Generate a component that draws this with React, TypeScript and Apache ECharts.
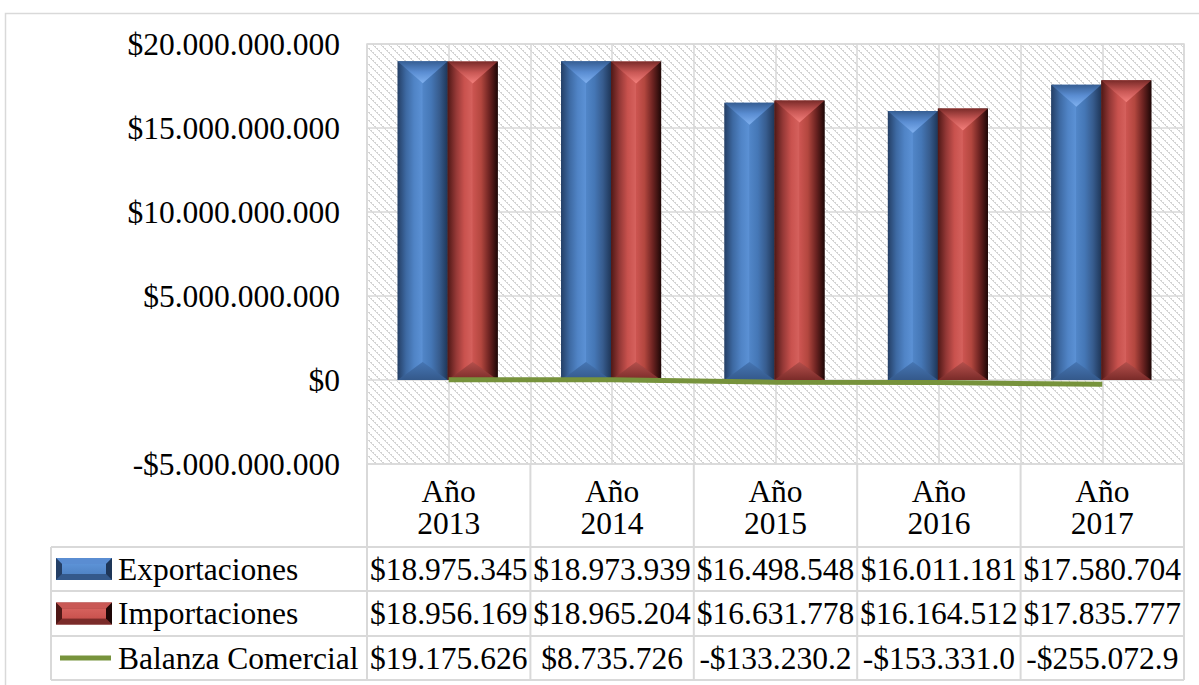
import React, { useEffect, useRef } from "react";
import * as echarts from "echarts";

// ---- data ----
const categories = ["Año\n2013", "Año\n2014", "Año\n2015", "Año\n2016", "Año\n2017"];
const seriesNames = ["Exportaciones", "Importaciones", "Balanza Comercial"];
const exportaciones = [18975345000, 18973939000, 16498548000, 16011181000, 17580704000];
const importaciones = [18956169000, 18965204000, 16631778000, 16164512000, 17835777000];
const balanza = [19175626, 8735726, -133230200, -153331000, -255072900];
const yMin = -5000000000;
const yMax = 20000000000;
const yStep = 5000000000;
const CELL_CHARS = 11; // the data-table cells clip their text

// ---- layout ----
const W = 1199;
const H = 685;
const FONT = '"Liberation Serif", "Times New Roman", serif';
const FS = 31.5;
const gridLeft = 367;
const gridTop = 44;
const gridW = 817;
const gridH = 420;
const tableLeft = 51;
const rowTops = [547, 591, 636, 680];
const borderCol = "#d9d9d9";

const fmt = (v: number) =>
  (v < 0 ? "-" : "") + "$" + Math.abs(Math.round(v)).toString().replace(/\B(?=(\d{3})+(?!\d))/g, ".");

const lg = (x2: number, y2: number, cols: string[]) =>
  new echarts.graphic.LinearGradient(
    0, 0, x2, y2,
    cols.map((c, k) => ({ offset: k / (cols.length - 1), color: c }))
  );

const bluePal = {
  base: ["#2a4770", "#4a7cbd", "#4f82c4", "#3e69a3", "#1c3354"],
  left: ["#243f66", "#3d69a2", "#5084c6", "#5c92d6"],
  right: ["#5186c8", "#4577b6", "#375c8e", "#1e3658"],
  top: ["#365e93", "#5a8dd2", "#80b1f0"],
  bottom: ["#4676b4", "#34598b"],
};
const redPal = {
  base: ["#4e1816", "#b44845", "#c4504c", "#8a302e", "#1e0706"],
  left: ["#4f1816", "#943836", "#c9524e", "#d6625e"],
  right: ["#cd5551", "#b3473f", "#6c2321", "#1e0706"],
  top: ["#7a2b29", "#c95855", "#f4807c"],
  bottom: ["#b5504c", "#7a2b29"],
};

function bevelBar(pal: any, side: number) {
  return (params: any, api: any) => {
    const i = api.value(0);
    const v = api.value(1);
    const p = api.coord([i, v]);
    const b = api.coord([i, 0]);
    const band = api.size([1, 0])[0];
    const w = band * 0.306;
    const cx = p[0] - 1;
    const x0 = side < 0 ? cx - w : cx;
    const x1 = x0 + w;
    const xm = (x0 + x1) / 2;
    const yT = Math.min(p[1], b[1]);
    const yB = Math.max(p[1], b[1]);
    const dT = Math.min(w * 0.44, (yB - yT) / 2);
    const dB = Math.min(w * 0.36, (yB - yT) / 2);
    return {
      type: "group",
      children: [
        { type: "rect", shape: { x: x0, y: yT, width: w, height: yB - yT }, style: { fill: lg(1, 0, pal.base) } },
        {
          type: "polygon",
          shape: { points: [[x0, yT], [xm, yT + dT], [xm, yB - dB], [x0, yB]] },
          style: { fill: lg(1, 0, pal.left) },
        },
        {
          type: "polygon",
          shape: { points: [[xm, yT + dT], [x1, yT], [x1, yB], [xm, yB - dB]] },
          style: { fill: lg(1, 0, pal.right) },
        },
        {
          type: "polygon",
          shape: { points: [[x0, yT], [x1, yT], [xm, yT + dT]] },
          style: { fill: lg(0, 1, pal.top) },
        },
        {
          type: "polygon",
          shape: { points: [[x0, yB], [x1, yB], [xm, yB - dB]] },
          style: { fill: lg(0, 1, pal.bottom) },
        },
      ],
    };
  };
}

function hatch() {
  const c = document.createElement("canvas");
  c.width = 8;
  c.height = 8;
  const ctx = c.getContext("2d")!;
  ctx.fillStyle = "#ffffff";
  ctx.fillRect(0, 0, 8, 8);
  ctx.fillStyle = "#d4d4d4";
  for (let i = 0; i < 8; i++) {
    ctx.fillRect(i, i, 1, 1);
    if (i % 2 === 0) ctx.fillRect((i + 1) % 8, i, 1, 1);
  }
  return c;
}

function keyIcon(pal: any, x: number, cy: number) {
  const kw = 56;
  const kh = 22;
  const y = cy - kh / 2;
  const e = 6;
  const ev = 6;
  return {
    type: "group",
    children: [
      { type: "rect", shape: { x, y, width: kw, height: kh }, style: { fill: pal.left[1] } },
      {
        type: "polygon",
        shape: { points: [[x, y], [x + kw, y], [x + kw - e, y + ev], [x + e, y + ev]] },
        style: { fill: pal.top[1] },
      },
      {
        type: "polygon",
        shape: { points: [[x, y + kh], [x + kw, y + kh], [x + kw - e, y + kh - ev], [x + e, y + kh - ev]] },
        style: { fill: pal.bottom[1] },
      },
      {
        type: "polygon",
        shape: { points: [[x + kw, y], [x + kw, y + kh], [x + kw - e, y + kh - ev], [x + kw - e, y + ev]] },
        style: { fill: pal.right[3] },
      },
      {
        type: "polygon",
        shape: { points: [[x, y], [x, y + kh], [x + e, y + kh - ev], [x + e, y + ev]] },
        style: { fill: pal.left[0] },
      },
      {
        type: "rect",
        shape: { x: x + e, y: y + ev, width: kw - 2 * e, height: kh - 2 * ev },
        style: { fill: lg(0, 1, [pal.left[3], pal.left[2]]) },
      },
    ],
  };
}

export default function App() {
  const ref = useRef<HTMLDivElement>(null);

  useEffect(() => {
    if (!ref.current) return;
    const chart = echarts.init(ref.current, null, { renderer: "svg" });

    const colW = gridW / categories.length;
    const rows = [exportaciones, importaciones, balanza];
    const graphics: any[] = [];

    // outer chart border
    graphics.push({
      type: "rect",
      z: -10,
      shape: { x: 5.5, y: 13.5, width: 1400, height: 900 },
      style: { fill: "none", stroke: borderCol, lineWidth: 1.5 },
    });
    // table vertical lines
    for (let i = 0; i <= categories.length; i++) {
      const x = gridLeft + i * colW;
      graphics.push({
        type: "line",
        shape: { x1: x, y1: gridTop + gridH, x2: x, y2: rowTops[rowTops.length - 1] },
        style: { stroke: borderCol, lineWidth: 2 },
      });
    }
    graphics.push({
      type: "line",
      shape: { x1: tableLeft, y1: rowTops[0], x2: tableLeft, y2: rowTops[rowTops.length - 1] },
      style: { stroke: borderCol, lineWidth: 2 },
    });
    rowTops.forEach((y) =>
      graphics.push({
        type: "line",
        shape: { x1: tableLeft, y1: y, x2: gridLeft + gridW, y2: y },
        style: { stroke: borderCol, lineWidth: 2 },
      })
    );
    // rows
    rows.forEach((vals, r) => {
      const cy = (rowTops[r] + rowTops[r + 1]) / 2;
      graphics.push({
        type: "text",
        x: 118,
        y: cy,
        style: { text: seriesNames[r], font: `${FS}px ${FONT}`, fill: "#000", verticalAlign: "middle", align: "left" },
      });
      vals.forEach((v, i) => {
        graphics.push({
          type: "text",
          x: gridLeft + (i + 0.5) * colW,
          y: cy,
          style: {
            text: fmt(v).slice(0, CELL_CHARS),
            font: `${FS}px ${FONT}`,
            fill: "#000",
            verticalAlign: "middle",
            align: "center",
          },
        });
      });
    });
    // legend keys
    const c0 = (rowTops[0] + rowTops[1]) / 2;
    const c1 = (rowTops[1] + rowTops[2]) / 2;
    const c2 = (rowTops[2] + rowTops[3]) / 2;
    graphics.push(keyIcon(bluePal, 56, c0));
    graphics.push(keyIcon(redPal, 56, c1));
    graphics.push({
      type: "line",
      shape: { x1: 60, y1: c2, x2: 111, y2: c2 },
      style: { stroke: "#77933c", lineWidth: 5 },
    });

    const option: any = {
      animation: false,
      backgroundColor: "#ffffff",
      textStyle: { fontFamily: FONT },
      grid: {
        left: gridLeft,
        top: gridTop,
        width: gridW,
        height: gridH,
        show: true,
        backgroundColor: { image: hatch(), repeat: "repeat", imageWidth: 8, imageHeight: 8 },
        borderColor: borderCol,
        borderWidth: 1.5,
        containLabel: false,
      },
      xAxis: [
        {
          type: "category",
          data: categories,
          position: "bottom",
          axisLine: { show: false },
          axisTick: { show: false },
          splitLine: { show: false },
          axisLabel: {
            interval: 0,
            color: "#000",
            fontSize: FS,
            lineHeight: 32,
            fontFamily: FONT,
            margin: 11,
          },
        },
        {
          type: "category",
          data: ["", "", "", "", "", "", "", "", "", ""],
          position: "top",
          axisLine: { show: false },
          axisTick: { show: false },
          axisLabel: { show: false },
          splitLine: { show: true, interval: 0, lineStyle: { color: borderCol, width: 1.5 } },
        },
      ],
      yAxis: {
        type: "value",
        min: yMin,
        max: yMax,
        interval: yStep,
        axisLine: { show: false },
        axisTick: { show: false },
        axisLabel: {
          formatter: (v: number) => fmt(v),
          color: "#000",
          fontSize: FS,
          fontFamily: FONT,
          margin: 27,
        },
        splitLine: { show: true, lineStyle: { color: borderCol, width: 1.5 } },
      },
      series: [
        {
          name: seriesNames[0],
          type: "custom",
          xAxisIndex: 0,
          renderItem: bevelBar(bluePal, -1),
          encode: { x: 0, y: 1 },
          data: exportaciones.map((v, i) => [i, v]),
          z: 2,
        },
        {
          name: seriesNames[1],
          type: "custom",
          xAxisIndex: 0,
          renderItem: bevelBar(redPal, 1),
          encode: { x: 0, y: 1 },
          data: importaciones.map((v, i) => [i, v]),
          z: 2,
        },
        {
          name: seriesNames[2],
          type: "line",
          xAxisIndex: 0,
          data: balanza,
          symbol: "none",
          lineStyle: { color: "#77933c", width: 5 },
          itemStyle: { color: "#77933c" },
          z: 5,
        },
      ],
      graphic: graphics,
    };

    chart.setOption(option);
    return () => chart.dispose();
  }, []);

  return (
    <div
      ref={ref}
      style={{ position: "fixed", left: 0, top: 0, width: W, height: H, background: "#fff" }}
    />
  );
}
